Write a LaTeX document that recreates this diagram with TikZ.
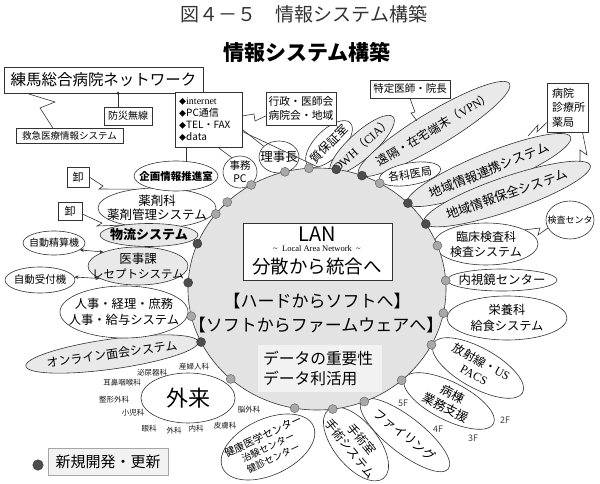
\documentclass[tikz,border=0pt]{standalone}
\usepackage{fontspec}
\setmainfont{Noto Sans CJK JP}
\newfontfamily\serifjp{Liberation Serif}
\usetikzlibrary{shapes.geometric,calc,arrows.meta}
\newcommand{\fsz}[2]{\fontsize{#1}{#2}\selectfont}
\definecolor{circfill}{HTML}{E3E3E3}
\definecolor{petalg}{HTML}{E9E9E9}
\definecolor{dotdk}{HTML}{4D4D4D}
\definecolor{dotlt}{HTML}{A8A8A8}
\definecolor{linecol}{HTML}{333333}
\definecolor{datafill}{HTML}{F2F2F2}
\newcommand{\mypetal}[9]{%
  \node[#1, minimum width={2*#5pt}, minimum height={2*#6pt}, rotate=#7] (#2) at (#3,#4) {};
  \node[txt, rotate=#7, font=#8] (#2t) at (#2.center) {#9};}
\tikzset{
  petal/.style={ellipse, draw=linecol, line width=0.6pt, inner sep=0pt},
  wp/.style={petal, fill=white},
  gp/.style={petal, fill=petalg},
  txt/.style={inner sep=0pt, align=center, text=black},
  box/.style={draw=linecol, line width=0.6pt, fill=white, inner sep=0pt},
  dotdark/.style={circle, draw=black!80, fill=dotdk, minimum size=9pt, inner sep=0pt, line width=0.4pt},
  dotgray/.style={circle, draw=black!65, fill=dotlt, minimum size=9pt, inner sep=0pt, line width=0.4pt},
  conn/.style={draw=linecol, line width=0.6pt},
  small/.style={inner sep=0pt, font=\fsz{7.5}{8}, text=black!90},
  floor/.style={inner sep=0pt, font=\fsz{9}{10}, text=black!75},
  dbl/.style={conn, {Stealth[length=4pt,width=3.5pt]}-{Stealth[length=4pt,width=3.5pt]}},
}
\begin{document}
\begin{tikzpicture}[x=1pt,y=-1pt]
\useasboundingbox[fill=white] (0,0) rectangle (600,484);

% titles
\node[txt, text=black!80, font=\fsz{19}{21}] (title) at (304,14) {図４－５　情報システム構築};
\node[txt, font=\fsz{21}{23}\bfseries] (sub) at (307,52) {情報システム構築};

% petals (drawn before the circle)
\mypetal{wp}{yakuzai}{157}{208}{59}{20}{0}{\fsz{12.5}{14}}{薬剤科\\薬剤管理システム}
\mypetal{gp}{butsuryu}{149}{235}{49}{11.5}{0}{\fsz{13}{15}\bfseries}{物流システム}
\mypetal{wp}{kikaku}{176}{176}{42}{15}{0}{\fsz{10.5}{12}\bfseries}{企画情報推進室}
\mypetal{wp}{jimu}{240}{172}{17}{16}{0}{\fsz{10.5}{13}}{事務\\PC}
\mypetal{wp}{rijicho}{279}{157}{20}{16}{0}{\fsz{12.5}{14}}{理事長}
\mypetal{wp}{shitsu}{329}{144}{30}{14}{45}{\fsz{12}{14}}{質保証室}
\mypetal{gp}{dwh}{362}{145}{42}{13}{42}{\fsz{12}{14}}{{\serifjp DWH}（{\serifjp CIA}）}
\mypetal{gp}{enkaku}{434}{129}{88}{17}{31}{\fsz{12}{14}}{遠隔・在宅端末（{\serifjp VPN}）}
\mypetal{wp}{kakka}{410}{174}{31}{11}{10}{\fsz{11}{13}}{各科医局}
\mypetal{gp}{renkei}{489}{170}{88}{17}{22}{\fsz{12.8}{14}}{地域情報連携システム}
\mypetal{gp}{hozen}{507}{194}{88}{17}{19}{\fsz{12.8}{14}}{地域情報保全システム}
\mypetal{wp}{rinsho}{486}{244}{52}{21}{0}{\fsz{12}{15}}{臨床検査科\\検査システム}
\mypetal{wp}{kcenter}{570}{220}{24}{19}{0}{\fsz{9}{10}}{検査センタ}
\mypetal{wp}{naishi}{502}{280}{55}{11}{0}{\fsz{12.4}{14}}{内視鏡センター}
\mypetal{wp}{eiyo}{507}{318}{60}{22}{0}{\fsz{12.2}{16}}{栄養科\\給食システム}
\mypetal{wp}{hosha}{478}{368}{51}{20}{-29}{\fsz{12}{15}}{放射線・{\serifjp US}\\{\serifjp PACS}}
\mypetal{wp}{byoto}{449}{401}{50}{19}{-27}{\fsz{12.5}{15}}{病棟\\業務支援}
\mypetal{wp}{filing}{405}{435}{55}{18}{-38}{\fsz{12.5}{14}}{ファイリング}
\mypetal{wp}{shujutsu}{356}{444}{44}{22}{-51}{\fsz{12}{15}}{手術室\\手術システム}
\mypetal{wp}{kenko}{268}{447}{50}{28}{25}{\fsz{9.5}{12}}{{\fsz{10.5}{12}健康医学センター}\\治験センター\\健診センター}
\mypetal{wp}{gairai}{188}{398}{47}{25}{0}{\fsz{22}{24}}{外来}
\mypetal{gp}{online}{112}{354}{87}{15}{8}{\fsz{12}{14}}{オンライン面会システム}
\mypetal{wp}{jinji}{124}{312}{64}{26}{0}{\fsz{12.3}{16}}{人事・経理・庶務\\人事・給与システム}
\mypetal{gp}{iji}{138}{266}{50}{19}{0}{\fsz{11.5}{15}}{{\fsz{12.5}{15}医事課}\\レセプトシステム}
\mypetal{wp}{seisan}{54}{243}{31}{12}{0}{\fsz{10}{12}}{自動精算機}
\mypetal{wp}{uketsuke}{40}{280}{35}{13}{0}{\fsz{10.5}{12}}{自動受付機}

% main circle
\node[ellipse, draw=linecol, line width=0.6pt, fill=circfill, minimum width=258pt, minimum height=242pt, inner sep=0pt] (lan) at (317,289) {};

% dots on the circle
\foreach \a/\s/\n in {202/dotdark/1, 218.3/dotgray/2, 225.9/dotgray/3, 239.3/dotgray/4, 255.6/dotgray/5,
  266.4/dotgray/6, 278.6/dotdark/7, 290.4/dotdark/8, 299.1/dotgray/9, 314.8/dotdark/10,
  327.5/dotdark/11, 339/dotgray/12, 356/dotgray/13, 11.5/dotgray/14, 27.5/dotgray/15,
  49/dotgray/16, 68.5/dotgray/17, 83/dotgray/18, 100/dotgray/19, 132/dotgray/20,
  154/dotdark/21, 183/dotdark/22, 167/dotgray/23}
  \path (lan.center) ++(\a:129 and 121) node[\s] (d\n) {};

% center texts
\node[box, minimum width=149pt, minimum height=57pt] (lanbox) at (317.5,251.5) {};
\node[txt, font=\fsz{20}{22}] (lant) at (317,234) {LAN};
\node[txt, font=\fsz{8.5}{10}\serifjp] (lansub) at (317,249) {\char"007E\ \ Local Area Network\ \ \char"007E};
\node[txt, font=\fsz{18.5}{20}] (lant2) at (317,267) {分散から統合へ};
\node[txt, font=\fsz{17}{19}] (hard) at (317,301) {【ハードからソフトへ】};
\node[txt, font=\fsz{17}{19}] (soft) at (316,325) {【ソフトからファームウェアへ】};
\node[fill=datafill, inner sep=0pt, minimum width=124pt, minimum height=47pt] (databox) at (320,368.5) {};
\node[txt, align=left, anchor=west, font=\fsz{15.7}{19.5}] (datat) at (263,368.5) {データの重要性\\データ利活用};

% small labels around 外来
\node[small] (l1) at (194,367) {産婦人科};
\node[small] (l2) at (152,373) {泌尿器科};
\node[small] (l3) at (122,383) {耳鼻咽喉科};
\node[small] (l4) at (114,400) {整形外科};
\node[small] (l5) at (133,413) {小児科};
\node[small] (l6) at (149,429) {眼科};
\node[small] (l7) at (174,431) {外科};
\node[small] (l8) at (196,429) {内科};
\node[small] (l9) at (225,426) {皮膚科};
\node[small] (l10) at (249,410) {脳外科};

% floors
\node[floor] (f5) at (403,403) {5F};
\node[floor] (f4) at (438,429) {4F};
\node[floor] (f3) at (473,438) {3F};
\node[floor] (f2) at (505,420) {2F};

% boxes upper left
\node[box, minimum width=199pt, minimum height=26pt, font=\fsz{15.5}{17}] (net) at (103.5,80) {練馬総合病院ネットワーク};
\node[box, minimum width=48pt, minimum height=18pt, font=\fsz{10}{12}] (bousai) at (128,116) {防災無線};
\node[box, minimum width=107pt, minimum height=15pt, font=\fsz{9.5}{11}] (kyu) at (69.5,135.5) {救急医療情報システム};
\node[box, minimum width=22pt, minimum height=20pt, font=\fsz{11}{12}] (oroshi1) at (78,177) {卸};
\node[box, minimum width=24pt, minimum height=18pt, font=\fsz{11}{12}] (oroshi2) at (70,211) {卸};
\node[box, minimum width=67pt, minimum height=55pt] (inet) at (208.5,119.5) {};
\node[txt, align=left, anchor=west, font=\fsz{10}{12.2}] (inett) at (179,119.5) {{\fsz{7}{7}◆}{\serifjp internet}\\{\fsz{7}{7}◆}PC通信\\{\fsz{7}{7}◆}TEL・FAX\\{\fsz{7}{7}◆}data};
\node[box, minimum width=70pt, minimum height=33pt] (gyosei) at (301,108.5) {};
\node[txt, font=\fsz{10.8}{14}] (gyoseit) at (301,108.5) {行政・医師会\\病院会・地域};
\node[box, minimum width=80pt, minimum height=18pt, font=\fsz{10.5}{12}] (tokutei) at (410,89) {特定医師・院長};
\node[box, minimum width=41pt, minimum height=49pt] (byoin) at (567.5,107.5) {};
\node[txt, align=left, anchor=west, font=\fsz{11}{14.5}] (byoint) at (552,107.5) {病院\\診療所\\薬局};

% connectors
\coordinate (nb) at ([xshift=-10pt]bousai.north |- net.south);
\draw[conn] (nb) -- ([xshift=-10pt]bousai.north);
\fill[linecol] (nb) circle (1.6pt);
\draw[conn] ([xshift=23pt]net.south west) -- (55,102) -- (40,108) -- ([xshift=37pt]kyu.north west);
\draw[conn] ([xshift=-22.5pt]inet.south) -- ([xshift=-22.5pt]inet.south |- kikaku.north);
\draw[conn] ([xshift=9.5pt]inet.south) -- (jimu.120);
\draw[conn] ([yshift=3.5pt]inet.east) -- (254,114) -- (255,121) -- (gyosei.west |- 0,116);
\draw[conn] ([yshift=-10pt]inet.east) -- (rijicho.145);
\draw[conn] ([yshift=-12pt]inet.east) -- (shitsu.200);
\draw[conn] (tokutei.south) -- (415,112) -- (411,113) -- (417,121);
\draw[conn] ([yshift=-15pt]byoin.west) -- (537,132) -- (538,125) -- (528,136);
\draw[conn] ([xshift=15pt]byoin.south) -- (587,155) -- (580,150) -- (580,162);
\draw[conn] (rinsho.20) -- (540,228) -- (538,235) -- (kcenter.200);
\draw[conn] (oroshi1.east) -- (103,186) -- (99,189) -- (yakuzai.140);
\draw[conn] ([yshift=-3pt]oroshi2.east) -- (102,223) -- (97,226) -- (butsuryu.160);
\draw[dbl] (seisan.-15) -- (iji.158);
\draw[dbl] (uketsuke.5) -- (iji.198);

% legend
\node[dotdark, minimum size=10.5pt] (legdot) at (38,465) {};
\node[draw=black!35, fill=datafill, line width=0.5pt, minimum width=120pt, minimum height=27pt, inner sep=0pt, font=\fsz{15}{17}] (legbox) at (108,461.5) {新規開発・更新};
\end{tikzpicture}
\end{document}
